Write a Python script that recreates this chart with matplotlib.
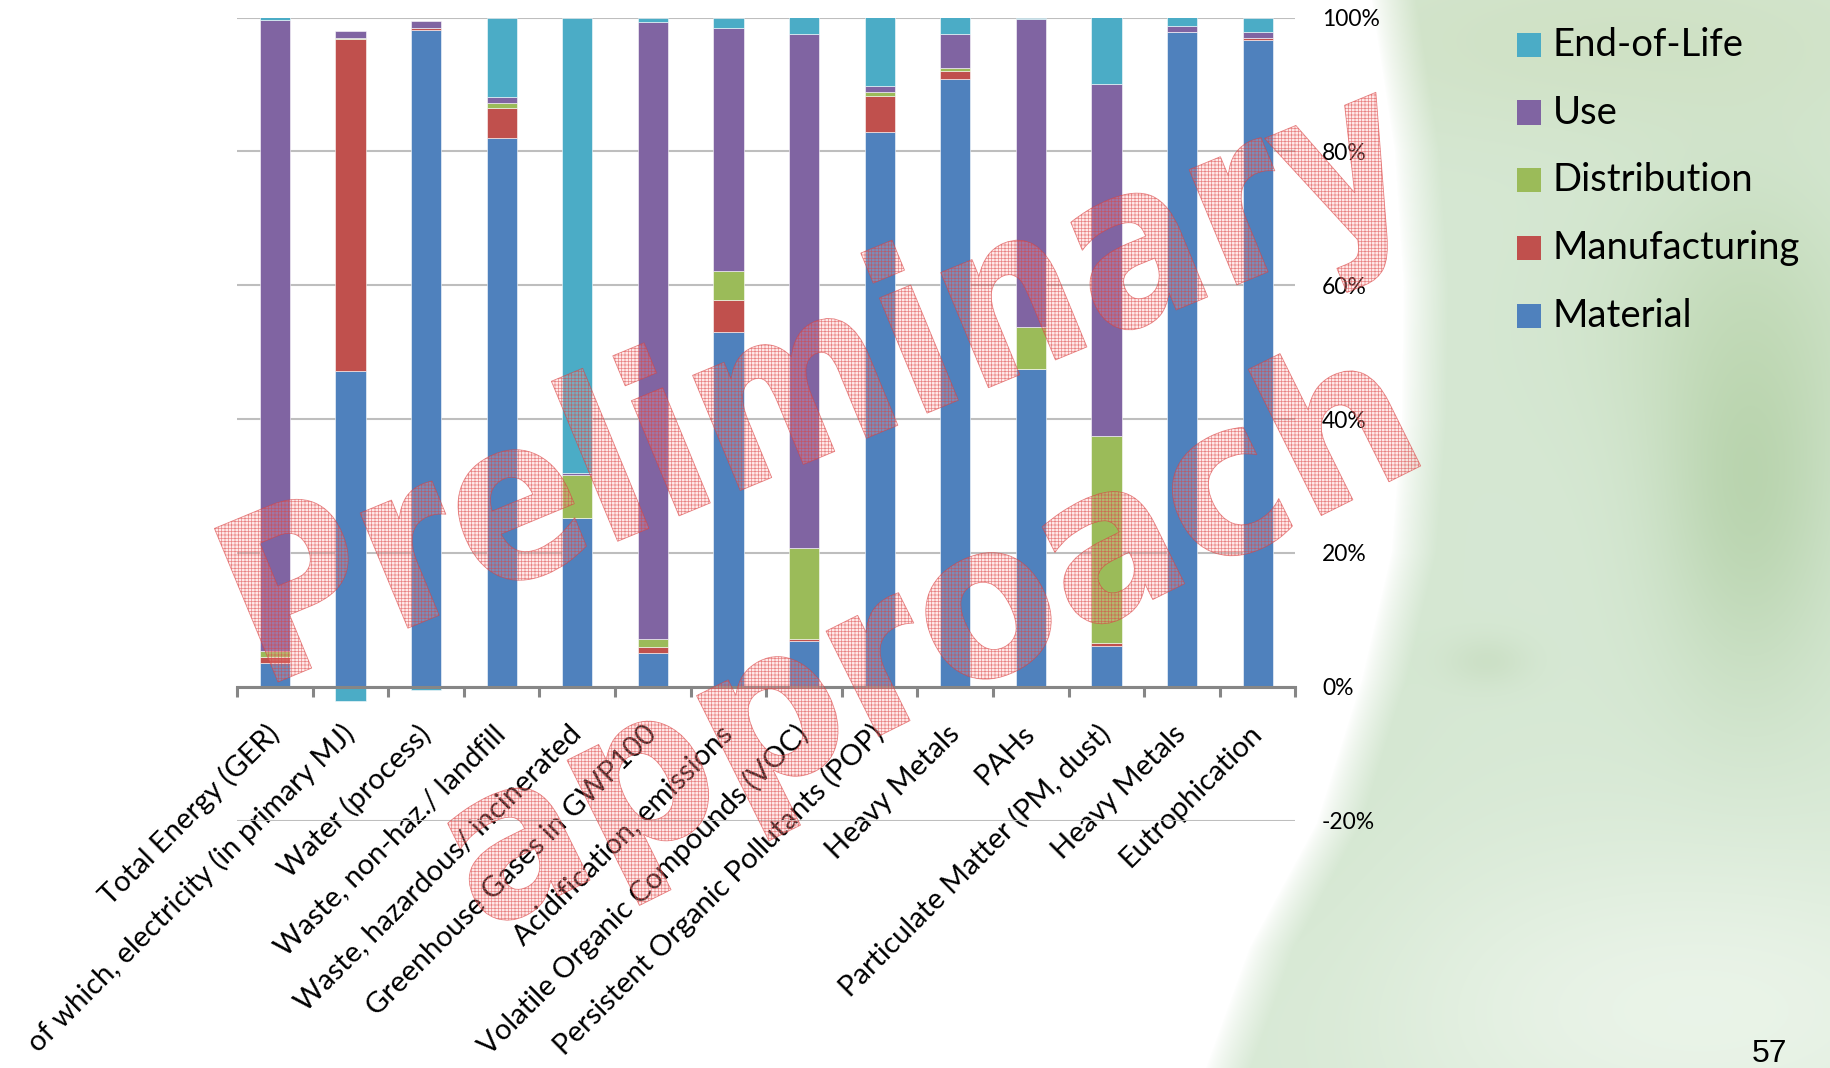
import numpy as np
import matplotlib
matplotlib.use("Agg")
import matplotlib.pyplot as plt
from matplotlib.patches import PathPatch, Rectangle
from matplotlib.textpath import TextPath
from matplotlib.font_manager import FontProperties
from matplotlib.transforms import Affine2D
from matplotlib.ticker import FixedLocator, FuncFormatter

W, H = 1830, 1068

# Share of each life-cycle stage per impact category (%)
categories = [
    "Total Energy (GER)",
    "of which, electricity (in primary MJ)",
    "Water (process)",
    "Waste, non-haz./ landfill",
    "Waste, hazardous/ incinerated",
    "Greenhouse Gases in GWP100",
    "Acidification, emissions",
    "Volatile Organic Compounds (VOC)",
    "Persistent Organic Pollutants (POP)",
    "Heavy Metals",
    "PAHs",
    "Particulate Matter (PM, dust)",
    "Heavy Metals",
    "Eutrophication",
]
material = [3.5, 47.2, 98.2, 82.0, 25.2, 5.1, 53.0, 6.8, 82.9, 90.8, 47.4, 6.1, 97.8, 96.6]
manufacturing = [0.9, 49.6, 0.3, 4.5, 0.0, 0.8, 4.8, 0.3, 5.4, 1.2, 0.0, 0.5, 0.1, 0.3]
distribution = [1.0, 0.2, 0.0, 0.75, 6.4, 1.2, 4.3, 13.6, 0.5, 0.5, 6.3, 30.8, 0.0, 0.0]
use = [94.3, 1.0, 1.0, 0.8, 0.4, 92.3, 36.4, 76.9, 0.9, 5.1, 46.1, 52.6, 0.9, 1.0]
end_of_life = [0.3, -2.1, -0.5, 11.9, 68.0, 0.5, 1.4, 2.4, 10.3, 2.5, 0.2, 10.0, 1.3, 2.0]

stages = ["Material", "Manufacturing", "Distribution", "Use", "End-of-Life"]
stage_values = [material, manufacturing, distribution, use, end_of_life]
stage_colors = ["#4F81BD", "#C0504D", "#9BBB59", "#8064A2", "#4BACC6"]
y_ticks = [-20, 0, 20, 40, 60, 80, 100]

plt.rcParams["font.family"] = ["Lato", "DejaVu Sans"]
plt.rcParams["hatch.linewidth"] = 0.5

fig = plt.figure(figsize=(W / 100, H / 100), dpi=100)

# --- slide background: white panel on the left, soft green on the right ---
yy, xx = np.mgrid[0:H, 0:W].astype(float)
img = np.empty((H, W, 3))
img[:] = (0.84, 0.91, 0.83)


def shade(cx, cy, sx, sy, color, strength):
    g = strength * np.exp(-0.5 * (((xx - cx) / sx) ** 2 + ((yy - cy) / sy) ** 2))
    img[:] = img * (1 - g[..., None]) + np.array(color) * g[..., None]


shade(1620, 40, 240, 70, (0.79, 0.86, 0.72), 0.5)
shade(1750, 470, 65, 150, (0.65, 0.78, 0.59), 0.6)
shade(1740, 320, 120, 100, (0.74, 0.84, 0.68), 0.35)
shade(1486, 661, 30, 18, (0.74, 0.83, 0.70), 0.4)
shade(1700, 1010, 260, 120, (0.95, 0.975, 0.945), 0.7)
shade(1300, 700, 90, 300, (0.81, 0.89, 0.79), 0.35)

edge_y = [0, 150, 286, 419, 552, 680, 823, 947, 1068]
edge_x = [1368, 1391, 1400, 1398, 1388, 1358, 1313, 1246, 1202]
bx = np.interp(np.arange(H), edge_y, edge_x)
d = xx - bx[:, None]
t = np.clip((d - 3) / 45, 0, 1) ** 0.8
img = img * t[..., None] + (1 - t[..., None])

bg = fig.add_axes([0, 0, 1, 1], zorder=0)
bg.imshow(img, aspect="auto", interpolation="bilinear")
bg.set_axis_off()

# --- stacked bars ---
ax = fig.add_axes([237 / W, 1 - 820.5 / H, (1295.5 - 237) / W, (820.5 - 17.5) / H], zorder=1)
ax.set_facecolor("none")
# category axis sits on the zero line
ax.spines["bottom"].set_position(("data", 0))

x = np.arange(len(categories))
pos = np.zeros(len(x))
neg = np.zeros(len(x))
for vals, color in zip(stage_values, stage_colors):
    v = np.array(vals, dtype=float)
    bottom = np.where(v >= 0, pos, neg)
    ax.bar(x, v, 0.4, bottom=bottom, color=color,
           edgecolor=(1, 1, 1, 0.55), linewidth=0.7, zorder=3)
    pos += np.clip(v, 0, None)
    neg += np.clip(v, None, 0)

ax.set_xlim(-0.5, len(categories) - 0.5)
ax.set_ylim(-20, 100)
ax.set_yticks(y_ticks)
ax.yaxis.set_major_formatter(FuncFormatter(lambda v, _: f"{v:.0f}%"))
ax.yaxis.tick_right()
ax.tick_params(axis="y", length=0, pad=19, labelsize=16.5)
ax.yaxis.grid(True, color="#BEBEBE", linewidth=1.5)
ax.set_axisbelow(True)

ax.xaxis.set_minor_locator(FixedLocator(np.arange(-0.5, len(categories), 1.0)))
ax.tick_params(axis="x", which="minor", length=7, width=2.2, color="#868686")
ax.tick_params(axis="x", which="major", length=0, pad=31)
ax.set_xticks(x)
ax.set_xticklabels(categories, rotation=45, ha="right", va="center",
                   rotation_mode="anchor", fontsize=21)

for side in ["left", "right", "top"]:
    ax.spines[side].set_visible(False)
ax.spines["bottom"].set_color("#868686")
ax.spines["bottom"].set_linewidth(2.2)
ax.spines["bottom"].set_zorder(4)

# --- legend (top entry is the last stage) ---
for i, (name, color) in enumerate(zip(stages[::-1], stage_colors[::-1])):
    cy = 44.7 + i * 67.8
    fig.add_artist(Rectangle((1517 / W, 1 - (cy + 12) / H), 24 / W, 24 / H,
                             transform=fig.transFigure, facecolor=color,
                             edgecolor="none", zorder=2))
    fig.text(1553 / W, 1 - cy / H, name, fontsize=27.5, va="center", ha="left", zorder=2)

# --- "Preliminary approach" stamp ---
stamp_font = FontProperties(family="DejaVu Sans", weight="bold")


def stamp(word, x0, y0, length, em, angle):
    tp = TextPath((0, 0), word, size=100, prop=stamp_font)
    ext = tp.get_extents()
    tr = (Affine2D().translate(-ext.x0, 0)
          .scale(length / ext.width, em / 100)
          .rotate_deg(angle)
          .translate(x0, H - y0))
    patch = PathPatch(tp, transform=tr, facecolor=(1.0, 0.68, 0.68, 0.26),
                      edgecolor=(0.85, 0.25, 0.25, 0.6), linewidth=0.6,
                      hatch="+++++", zorder=5)
    fig.add_artist(patch)


stamp("Preliminary", 278, 682, 1240, 228, 22.5)
stamp("approach", 490, 930, 1040, 215, 26.5)

fig.text(1752 / W, 1 - 1062 / H, "57", family="Liberation Sans", fontsize=23,
         va="baseline", ha="left", zorder=2)

fig.savefig("out.png", dpi=100)
